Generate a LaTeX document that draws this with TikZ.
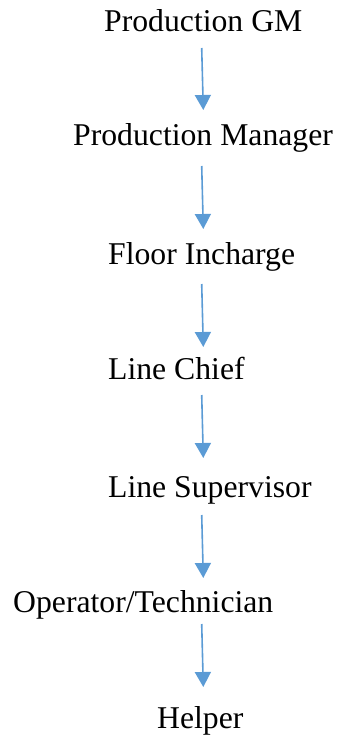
\documentclass[tikz,border=0pt]{standalone}
\usepackage{fontspec}
\setmainfont{Liberation Serif}
\usetikzlibrary{arrows.meta}
\definecolor{arrblue}{HTML}{5B9BD5}
\tikzset{
  lbl/.style={anchor=base west, inner sep=0pt, font=\fontsize{31.7}{38}\selectfont},
  arr/.style={draw=arrblue, line width=1.6pt, -{Triangle[width=16pt,length=15pt]}, arrblue}
}
\begin{document}
\begin{tikzpicture}[x=1pt,y=-1pt]
\useasboundingbox (0,0) rectangle (339,738);
\node[lbl] (gm) at (104,32) {Production GM};
\node[lbl] (pm) at (73,146) {Production Manager};
\node[lbl] (fi) at (108,264) {Floor Incharge};
\node[lbl] (lc) at (108,379) {Line Chief};
\node[lbl] (ls) at (108,497) {Line Supervisor};
\node[lbl] (ot) at (13,612) {Operator/Technician};
\node[lbl] (hp) at (157,728) {Helper};
\coordinate (s1) at (201.7,48);  \coordinate (e1) at (203.3,110);
\coordinate (s2) at (201.7,166); \coordinate (e2) at (203.3,229);
\coordinate (s3) at (201.7,284); \coordinate (e3) at (203.3,347);
\coordinate (s4) at (201.7,395); \coordinate (e4) at (203.3,458);
\coordinate (s5) at (201.7,515); \coordinate (e5) at (203.3,578);
\coordinate (s6) at (201.7,624); \coordinate (e6) at (203.3,687);
\draw[arr] (s1) -- (e1);
\draw[arr] (s2) -- (e2);
\draw[arr] (s3) -- (e3);
\draw[arr] (s4) -- (e4);
\draw[arr] (s5) -- (e5);
\draw[arr] (s6) -- (e6);
\end{tikzpicture}
\end{document}
